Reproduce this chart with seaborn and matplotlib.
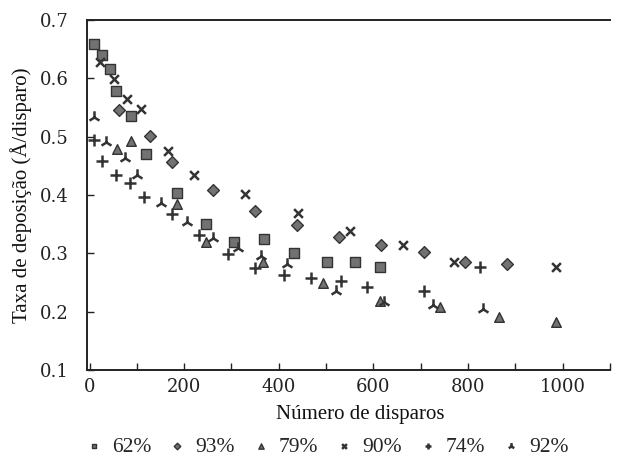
import matplotlib
matplotlib.use("Agg")
import matplotlib.pyplot as plt
import seaborn as sns
import pandas as pd
from matplotlib.ticker import MultipleLocator, FormatStrFormatter

# Deposition rate vs. number of shots, one series per condition
labels = ["62%", "93%", "79%", "90%", "74%", "92%"]

x_62 = [10, 27, 43, 55, 88, 120, 185, 246, 306, 368, 432, 503, 562, 615]
y_62 = [0.660, 0.640, 0.617, 0.579, 0.536, 0.471, 0.404, 0.351, 0.320, 0.324, 0.300, 0.285, 0.285, 0.277]

x_93 = [62, 128, 174, 262, 349, 439, 528, 617, 706, 794, 883]
y_93 = [0.546, 0.502, 0.457, 0.408, 0.373, 0.349, 0.328, 0.315, 0.303, 0.285, 0.282]

x_79 = [59, 88, 185, 246, 366, 494, 615, 741, 865, 985]
y_79 = [0.479, 0.492, 0.384, 0.320, 0.285, 0.249, 0.219, 0.208, 0.191, 0.182]

x_90 = [22, 51, 80, 109, 165, 220, 328, 440, 550, 662, 771, 985]
y_90 = [0.628, 0.599, 0.565, 0.547, 0.476, 0.434, 0.402, 0.370, 0.339, 0.315, 0.286, 0.276]

x_74 = [10, 27, 56, 85, 115, 175, 232, 292, 350, 411, 469, 531, 587, 706, 825]
y_74 = [0.494, 0.459, 0.434, 0.421, 0.396, 0.367, 0.332, 0.299, 0.275, 0.263, 0.258, 0.252, 0.242, 0.236, 0.277]

x_92 = [10, 34, 74, 101, 152, 206, 260, 313, 362, 417, 521, 622, 727, 832]
y_92 = [0.534, 0.491, 0.464, 0.435, 0.386, 0.353, 0.326, 0.310, 0.296, 0.281, 0.236, 0.217, 0.211, 0.205]

xs = [x_62, x_93, x_79, x_90, x_74, x_92]
ys = [y_62, y_93, y_79, y_90, y_74, y_92]

frames = [pd.DataFrame({"disparos": x, "taxa": y, "serie": lab})
          for lab, x, y in zip(labels, xs, ys)]
df = pd.concat(frames, ignore_index=True)

markers = {"62%": "s", "93%": "D", "79%": "^", "90%": "x", "74%": "+", "92%": "2"}
sizes = {"62%": 42, "93%": 36, "79%": 48, "90%": 40, "74%": 70, "92%": 80}
filled = {"s", "D", "^"}

sns.set_theme(style="white")
plt.rcParams["font.family"] = ["Liberation Serif", "DejaVu Serif"]

fig = plt.figure(figsize=(6.18, 4.59), dpi=100)
ax = fig.add_axes([0.141, 0.194, 0.846, 0.762])

dark = "#333333"
for lab in labels:
    sub = df[df["serie"] == lab]
    m = markers[lab]
    if m in filled:
        sns.scatterplot(data=sub, x="disparos", y="taxa", marker=m, s=sizes[lab],
                        color="#727272", edgecolor=dark, linewidth=1.0,
                        ax=ax, label=lab, legend=False)
    else:
        sns.scatterplot(data=sub, x="disparos", y="taxa", marker=m, s=sizes[lab],
                        color=dark, linewidth=1.8, ax=ax, label=lab, legend=False)

ax.set_xlim(-5, 1100)
ax.set_ylim(0.1, 0.7)
ax.xaxis.set_major_locator(MultipleLocator(200))
ax.xaxis.set_minor_locator(MultipleLocator(100))
ax.yaxis.set_major_locator(MultipleLocator(0.1))
ax.yaxis.set_major_formatter(FormatStrFormatter("%.1f"))
ax.tick_params(axis="both", which="both", direction="in", colors="#222222",
               length=5, width=1.0)
ax.tick_params(axis="x", which="both", top=False, bottom=True, pad=6)
ax.tick_params(axis="y", which="both", left=True, right=False, pad=13)
for t in ax.get_xticklabels() + ax.get_yticklabels():
    t.set_fontfamily("DejaVu Serif")
    t.set_fontsize(13)
for side in ["left", "bottom", "top"]:
    ax.spines[side].set_color("#222222")
    ax.spines[side].set_linewidth(1.4)
ax.spines["right"].set_visible(False)

ax.set_xlabel("Número de disparos", fontsize=15, color="#111111", labelpad=6)
ax.xaxis.label.set_x(0.522)
ax.set_ylabel("Taxa de deposição (Å/disparo)", fontsize=15, color="#111111", labelpad=6)

handles, hl = ax.get_legend_handles_labels()
fig.legend(handles, hl, loc="center", bbox_to_anchor=(0.529, 0.026), ncol=6,
           frameon=False, fontsize=15.5, markerscale=0.55, handletextpad=0.44,
           columnspacing=0.8, handlelength=0.8, borderaxespad=0, borderpad=0)

fig.savefig("out.png", dpi=100)
